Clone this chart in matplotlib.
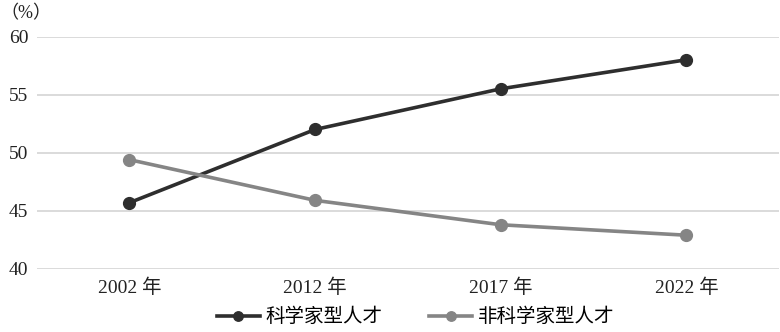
import matplotlib.pyplot as plt

# 字体：数字用衬线体，中文回退到 CJK
plt.rcParams['font.family'] = ['Liberation Serif', 'Noto Sans CJK SC']

years = ['2002 年', '2012 年', '2017 年', '2022 年']
scientist = [45.7, 52.0, 55.5, 58.0]
non_scientist = [49.4, 45.9, 43.8, 42.9]
yticks = [40, 45, 50, 55, 60]

fig = plt.figure(figsize=(7.8, 3.32), dpi=100)
ax = fig.add_axes([0.047, 0.19, 0.952, 0.70])

x = range(len(years))
ax.plot(x, scientist, color='#2e2e2e', lw=2.6, marker='o', ms=8.5, label='科学家型人才', zorder=3)
ax.plot(x, non_scientist, color='#858585', lw=2.6, marker='o', ms=8.5, label='非科学家型人才', zorder=3)

ax.set_xlim(-0.5, len(years) - 0.5)
ax.set_ylim(40, 60)
ax.set_yticks(yticks)
ax.set_xticks(list(x))
ax.set_xticklabels(years)
ax.tick_params(length=0, labelsize=14, colors='#222222')
ax.tick_params(axis='y', pad=6)
ax.tick_params(axis='x', pad=7)
ax.grid(axis='y', color='#d4d4d4', lw=1.2)
for s in ax.spines.values():
    s.set_visible(False)

fig.text(0.0, 0.985, '（%）', fontsize=13, va='top', ha='left', color='#222222')

fig.legend(*ax.get_legend_handles_labels(), loc='lower center', bbox_to_anchor=(0.533, 0.005),
           ncol=2, frameon=False, fontsize=14, handlelength=2.2, columnspacing=2.4,
           handletextpad=0.3, markerscale=0.8, borderaxespad=0.1, borderpad=0.1)

plt.savefig('out.png', dpi=100)
